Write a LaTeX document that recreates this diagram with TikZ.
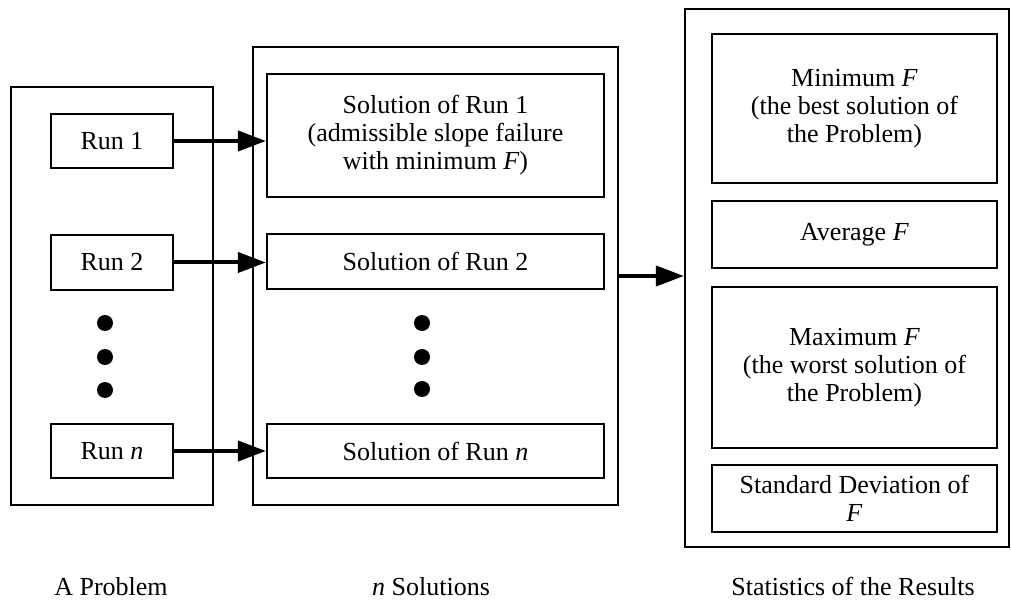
\documentclass[tikz,border=0pt]{standalone}
\usepackage{fontspec}
\setmainfont{Liberation Serif}
\usetikzlibrary{arrows.meta}

\begin{document}
\begin{tikzpicture}[x=1pt,y=-1pt]
\tikzstyle{every node}=[font=\fontsize{26}{28}\selectfont, inner sep=0pt, align=center]
\tikzstyle{bigbox}=[draw, line width=2.2pt]
\tikzstyle{runbox}=[draw, line width=2.2pt, minimum width=122pt, minimum height=54pt]
\tikzstyle{solbox}=[draw, line width=2.2pt, minimum width=337pt]
\tikzstyle{statbox}=[draw, line width=2.2pt, minimum width=285pt]
\tikzstyle{dotnode}=[circle, fill, minimum size=16pt]
\tikzstyle{thickarrow}=[line width=4pt, -{Triangle[length=28pt,width=20pt]}]
\useasboundingbox (0,0) rectangle (1011,601);
\draw (112,296) node (problem) [bigbox, minimum width=202pt, minimum height=418pt] {};
\draw (435.5,276) node (solutions) [bigbox, minimum width=365pt, minimum height=458pt] {};
\draw (847,278) node (stats) [bigbox, minimum width=324pt, minimum height=538pt] {};
\draw (112,141) node (run1) [runbox] {Run 1};
\draw (112,262.5) node (run2) [runbox, minimum height=55pt] {Run 2};
\draw (112,451) node (runn) [runbox] {Run \textit{n}};
\draw (105,323) node (ldot1) [dotnode] {};
\draw (105,357) node (ldot2) [dotnode] {};
\draw (105,390) node (ldot3) [dotnode] {};
\draw (435.5,135.5) node (sol1) [solbox, minimum height=123pt] {Solution of Run 1\\(admissible slope failure\\with minimum \textit{F})};
\draw (435.5,261.5) node (sol2) [solbox, minimum height=55pt] {Solution of Run 2};
\draw (435.5,451) node (soln) [solbox, minimum height=54pt] {Solution of Run \textit{n}};
\draw (422,323) node (rdot1) [dotnode] {};
\draw (422,357) node (rdot2) [dotnode] {};
\draw (422,389) node (rdot3) [dotnode] {};
\draw (854.5,108.5) node (minF) [statbox, minimum height=149pt] {Minimum \textit{F}\\(the best solution of\\the Problem)};
\draw (854.5,234.5) node (avgF) [statbox, minimum height=67pt] {Average \textit{F}};
\draw (854.5,367.5) node (maxF) [statbox, minimum height=161pt] {Maximum \textit{F}\\(the worst solution of\\the Problem)};
\draw (854.5,498.5) node (sdF) [statbox, minimum height=67pt] {Standard Deviation of\\\textit{F}};
\draw (111,595) node (problemlabel) [anchor=base] {A Problem};
\draw (431,595) node (solutionslabel) [anchor=base] {\textit{n} Solutions};
\draw (853,595) node (statslabel) [anchor=base] {Statistics of the Results};
\draw[thickarrow] (run1.east) -- (sol1.west |- run1.east);
\draw[thickarrow] (run2.east) -- (sol2.west |- run2.east);
\draw[thickarrow] (runn.east) -- (soln.west |- runn.east);
\draw[thickarrow] (solutions.east) -- (stats.west |- solutions.east);
\end{tikzpicture}
\end{document}
